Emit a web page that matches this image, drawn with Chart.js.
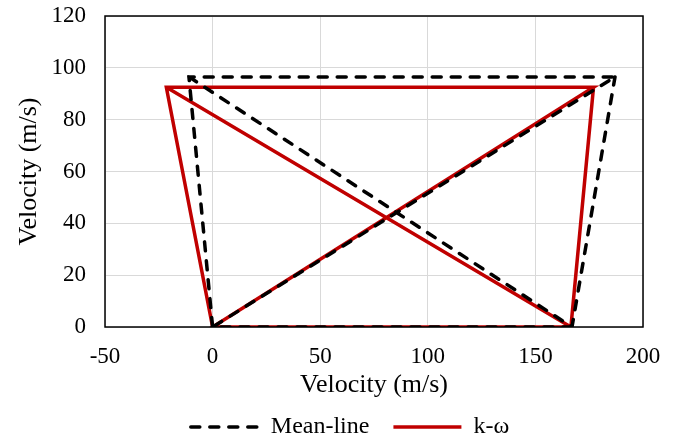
<!DOCTYPE html>
<html>
<head>
<meta charset="utf-8">
<script src="https://cdn.jsdelivr.net/npm/chart.js@4/dist/chart.umd.min.js"></script>
<style>
html,body{margin:0;padding:0;background:#fff;}
#wrap{width:678px;height:439px;}
</style>
</head>
<body>
<div id="wrap"><canvas id="c" width="678" height="439"></canvas></div>
<script>
// Data (velocity triangles)
const seriesNames = ["Mean-line", "k-ω"];
const meanX = [167, 0, 187, -11, 0, null, -11, 167, 187];
const meanY = [0, 0, 96.5, 96.5, 0, null, 96.5, 0, 96.5];
const kwX = [166.5, 0, 177, -21.5, 0, null, -21.5, 166.5, 177];
const kwY = [0, 0, 92.5, 92.5, 0, null, 92.5, 0, 92.5];
const xTicks = [-50, 0, 50, 100, 150, 200];
const yTicks = [0, 20, 40, 60, 80, 100, 120];

function pts(xs, ys) {
  return xs.map((x, i) => (x === null ? {x: null, y: null} : {x: x, y: ys[i]}));
}

const FONT = "'Liberation Serif', 'Times New Roman', serif";

const frame = {
  id: 'frame',
  afterDatasetsDraw(chart) {
    const a = chart.chartArea, ctx = chart.ctx;
    ctx.save();
    ctx.strokeStyle = '#000';
    ctx.lineWidth = 1.5;
    ctx.setLineDash([]);
    ctx.strokeRect(a.left, a.top, a.right - a.left, a.bottom - a.top);
    ctx.restore();
  }
};

new Chart(document.getElementById('c'), {
  type: 'scatter',
  data: {
    datasets: [
      {
        label: seriesNames[0],
        data: pts(meanX, meanY),
        showLine: true,
        spanGaps: false,
        borderColor: '#000000',
        backgroundColor: '#000000',
        borderWidth: 3.5,
        borderDash: [9, 10],
        borderCapStyle: 'round',
        pointRadius: 0,
        pointHoverRadius: 0,
        tension: 0
      },
      {
        label: seriesNames[1],
        data: pts(kwX, kwY),
        showLine: true,
        spanGaps: false,
        borderColor: '#C00000',
        backgroundColor: '#C00000',
        borderWidth: 3.5,
        pointRadius: 0,
        pointHoverRadius: 0,
        tension: 0
      }
    ]
  },
  options: {
    responsive: false,
    animation: false,
    layout: {padding: {left: 48, right: 26, top: 0, bottom: -10}},
    plugins: {
      legend: {
        position: 'bottom',
        labels: {
          usePointStyle: true,
          pointStyle: 'line',
          pointStyleWidth: 68,
          boxHeight: 3,
          color: '#000',
          font: {family: FONT, size: 24},
          padding: 24,
          generateLabels(chart) {
            const items = Chart.defaults.plugins.legend.labels.generateLabels(chart);
            items.forEach((it, i) => {
              const ds = chart.data.datasets[i];
              it.lineDash = ds.borderDash || [];
              it.lineWidth = 3.5;
              it.strokeStyle = ds.borderColor;
              it.fillStyle = ds.borderColor;
              it.lineCap = ds.borderCapStyle || 'butt';
              it.pointStyle = 'line';
            });
            return items;
          }
        }
      },
      tooltip: {enabled: false}
    },
    scales: {
      x: {
        type: 'linear',
        min: -50, max: 200,
        afterBuildTicks(axis) { axis.ticks = xTicks.map(v => ({value: v})); },
        afterFit(axis) { axis.height = 64; axis.paddingRight = 35; },
        grid: {color: '#d9d9d9', lineWidth: 1, drawTicks: false, tickLength: 0},
        border: {display: false},
        ticks: {color: '#000', font: {family: FONT, size: 23}, padding: 16},
        title: {display: true, text: 'Velocity (m/s)', color: '#000', font: {family: FONT, size: 26}, padding: {top: 0, bottom: -10}}
      },
      y: {
        type: 'linear',
        min: 0, max: 120,
        afterBuildTicks(axis) { axis.ticks = yTicks.map(v => ({value: v})); },
        afterFit(axis) { axis.width = 57; axis.paddingTop = 16; },
        grid: {color: '#d9d9d9', lineWidth: 1, drawTicks: false, tickLength: 0},
        border: {display: false},
        ticks: {color: '#000', font: {family: FONT, size: 23}, padding: 19},
        title: {display: true, text: 'Velocity (m/s)', color: '#000', font: {family: FONT, size: 26}, padding: {top: -34, bottom: 0}}
      }
    }
  },
  plugins: [frame]
});
</script>
</body>
</html>
